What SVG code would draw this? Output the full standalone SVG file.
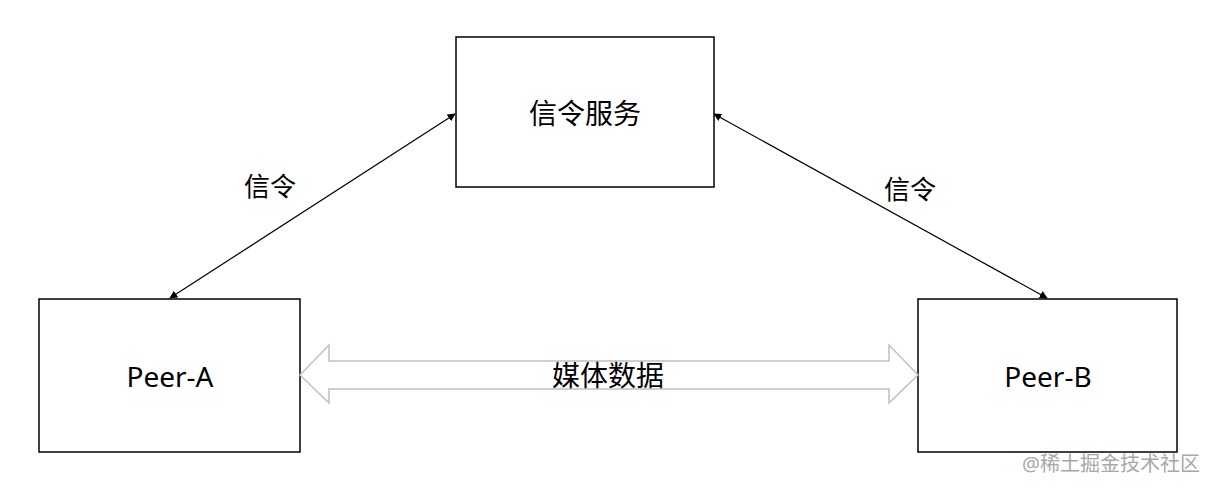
<svg xmlns="http://www.w3.org/2000/svg" width="1214" height="490" viewBox="0 0 1214 490">
<style>
.box{fill:#fff;stroke:#000;stroke-width:1.5}
.t{font-family:"Noto Sans","Noto Sans CJK SC",sans-serif;font-size:28px;fill:#000;text-anchor:middle;dominant-baseline:central}
.l{font-family:"Noto Sans","Noto Sans CJK SC",sans-serif;font-size:26px;fill:#000;text-anchor:middle;dominant-baseline:central}
.c{stroke:#000;stroke-width:1.2;fill:none}
</style>
<defs>
<marker id="ah" viewBox="0 0 10 10" refX="9" refY="5" markerWidth="8" markerHeight="8" orient="auto-start-reverse" markerUnits="userSpaceOnUse"><path d="M0,0 L10,5 L0,10 z" fill="#000"/></marker>
</defs>
<rect width="1214" height="490" fill="#fff"/>
<g id="server"><rect class="box" x="456" y="37" width="258" height="150"/><text class="t" x="585" y="113">信令服务</text></g>
<g id="peerA"><rect class="box" x="39" y="299" width="261" height="153"/><text class="t" x="170" y="376">Peer-A</text></g>
<g id="peerB"><rect class="box" x="918" y="299" width="259" height="153"/><text class="t" x="1048" y="376">Peer-B</text></g>
<g id="connectors">
<line class="c" x1="170" y1="298" x2="455" y2="114" marker-start="url(#ah)" marker-end="url(#ah)"/>
<line class="c" x1="714" y1="114" x2="1047" y2="298" marker-start="url(#ah)" marker-end="url(#ah)"/>
<path d="M300,375 L329,345 L329,361 L889,361 L889,345 L918,375 L889,403 L889,389 L329,389 L329,403 Z" fill="#fff" stroke="#c0c0c0" stroke-width="1.5"/>
<text class="l" x="270" y="186">信令</text>
<text class="l" x="910" y="189">信令</text>
<text class="t" x="608" y="375">媒体数据</text>
</g>
<text x="1200" y="471" font-family="Noto Sans,Noto Sans CJK SC,sans-serif" font-size="20" fill="#a8a8a8" text-anchor="end">@稀土掘金技术社区</text>
</svg>
